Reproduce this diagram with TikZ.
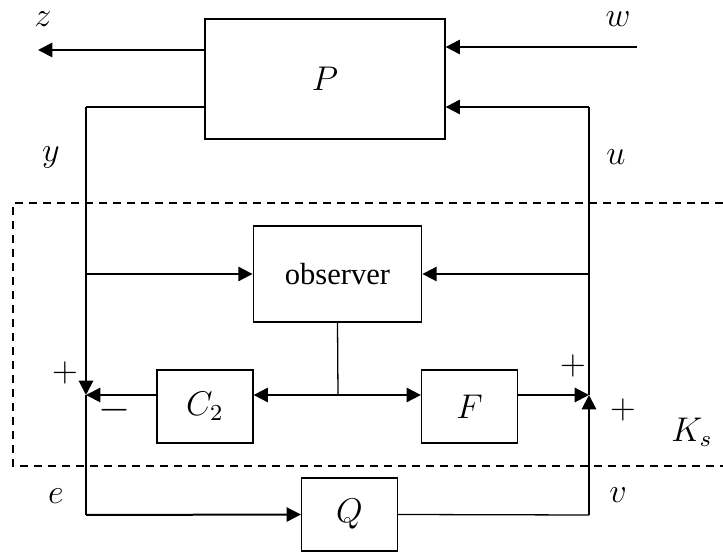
\documentclass[tikz,border=0pt]{standalone}
\usepackage{amsmath}
\usepackage{fontspec}
\setmainfont{Liberation Serif}
\usepackage{tikz}
\usetikzlibrary{positioning,arrows.meta}

\begin{document}
\begin{tikzpicture}
  [x=0.35pt, y=-0.35pt,
   block/.style={rectangle, draw, line width=0.45pt, inner sep=0pt, font=\large},
   sig/.style={line width=0.7pt, -{Triangle[length=5pt, width=5pt]}},
   wire/.style={line width=0.45pt},
   var/.style={inner sep=0pt, font=\large},
   sign/.style={inner sep=0pt, font=\large}]
  \useasboundingbox (0,0) rectangle (723,552);

  \node (P) [block, minimum width=84pt, minimum height=42pt] at (325,79) {$P$};
  \node (obs) [block, font=\fontsize{10.7}{12}\selectfont, minimum width=59pt, minimum height=33.6pt] at (337.5,274) {observer};
  \node (C2) [block, minimum width=33.6pt, minimum height=25.5pt] at (205,406.5) {$C_2$};
  \node (F) [block, minimum width=33.6pt, minimum height=25.5pt] at (469.5,406.5) {$F$};
  \node (Q) [block, minimum width=33.6pt, minimum height=25.5pt] at (349.5,514.5) {$Q$};

  \coordinate (zend) at (38,50);
  \coordinate (wbeg) at (637,47);
  \coordinate (yturn) at (86,107);
  \coordinate (uturn) at (589,107);
  \coordinate (ytap) at (86,274);
  \coordinate (utap) at (589,274);
  \coordinate (sumL) at (86,395);
  \coordinate (sumR) at (589,395);
  \coordinate (split) at (338,395);
  \coordinate (eturn) at (86,515);
  \coordinate (vturn) at (589,515);

  % plant signals
  \draw[sig] (P.west |- zend) -- (zend);
  \draw[sig] (wbeg) -- (P.east |- wbeg);
  \draw[wire] (P.west |- yturn) -- (yturn);
  \draw[sig] (yturn) -- (sumL);
  \draw[wire] (sumR) -- (uturn);
  \draw[sig] (uturn) -- (P.east |- uturn);

  % controller
  \draw[sig] (ytap) -- (obs.west);
  \draw[sig] (utap) -- (obs.east);
  \draw[wire] (obs.south) -- (split);
  \draw[sig] (split) -- (C2.east |- split);
  \draw[sig] (split) -- (F.west |- split);
  \draw[sig] (C2.west |- sumL) -- (sumL);
  \draw[sig] (F.east |- sumR) -- (sumR);

  % Q loop
  \draw[wire] (sumL) -- (eturn);
  \draw[sig] (eturn) -- (Q.west);
  \draw[wire] (Q.east) -- (vturn);
  \draw[sig] (vturn) -- (sumR);

  \draw[wire, dash pattern=on 2.8pt off 2.1pt] (723,203) -- (13,203) -- (13,466) -- (723,466);

  \node (zlbl) [var] at (43,19) {$z$};
  \node (wlbl) [var] at (618,19) {$w$};
  \node (ylbl) [var] at (51,157) {$y$};
  \node (ulbl) [var] at (616,157) {$u$};
  \node (elbl) [var] at (56,496) {$e$};
  \node (vlbl) [var] at (618,495) {$v$};
  \node (Kslbl) [var] at (692,432) {$K_s$};
  \node (pL) [sign] at (65,373) {$+$};
  \node (mL) [sign, font=\Large] at (114,410) {$-$};
  \node (pRt) [sign] at (573,366) {$+$};
  \node (pR) [sign] at (623,410) {$+$};
\end{tikzpicture}
\end{document}
